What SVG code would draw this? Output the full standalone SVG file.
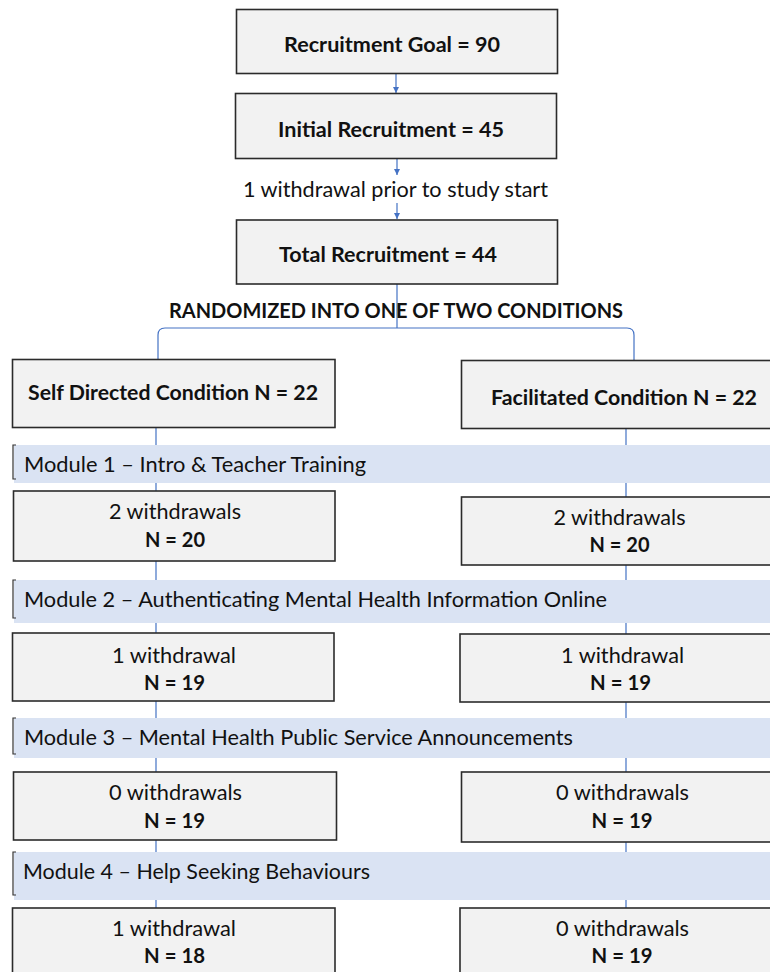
<svg xmlns="http://www.w3.org/2000/svg" width="770" height="972" viewBox="0 0 770 972">
<defs>
<marker id="ah" viewBox="0 0 10 10" refX="10" refY="5" markerWidth="6" markerHeight="6" orient="auto" markerUnits="userSpaceOnUse">
<path d="M0 0 L10 5 L0 10 Z" fill="#4472c4"/>
</marker>
<style>
.box{fill:#f2f2f2;stroke:#2b2b2b;stroke-width:1.6}
.bar{fill:#dae3f3}
.brk{fill:none;stroke:#333;stroke-width:1.2}
.con{fill:none;stroke:#4472c4;stroke-width:1.2}
text{font-family:Lato,"Liberation Sans",sans-serif;font-size:21px;fill:#111}
.b{font-weight:bold}
.c{text-anchor:middle}
</style>
</defs>
<rect width="770" height="972" fill="#fff"/>
<g id="connectors">
<line class="con" x1="396" y1="74" x2="396" y2="93" marker-end="url(#ah)"/>
<line class="con" x1="397" y1="159" x2="397" y2="175" marker-end="url(#ah)"/>
<line class="con" x1="397" y1="203" x2="397" y2="219" marker-end="url(#ah)"/>
<path class="con" d="M397 284 V328"/>
<path class="con" d="M158 366 V335 Q158 328 165 328 H627 Q634 328 634 335 V366"/>
<line class="con" x1="156" y1="428" x2="156" y2="908"/>
<line class="con" x1="626" y1="428" x2="626" y2="908"/>
</g>
<g id="goal"><rect class="box" x="236.5" y="9.5" width="321" height="64"/><text class="b c" x="392" y="52" textLength="216" lengthAdjust="spacingAndGlyphs">Recruitment Goal = 90</text></g>
<g id="initial"><rect class="box" x="235.5" y="93.5" width="321" height="65"/><text class="b c" x="391" y="137" textLength="226" lengthAdjust="spacingAndGlyphs">Initial Recruitment = 45</text></g>
<g id="withdrawal-prior"><text class="c" x="395.5" y="197" textLength="305" lengthAdjust="spacingAndGlyphs">1 withdrawal prior to study start</text></g>
<g id="total"><rect class="box" x="236.5" y="220" width="321" height="64"/><text class="b c" x="388" y="262" textLength="218" lengthAdjust="spacingAndGlyphs">Total Recruitment = 44</text></g>
<g id="randomized"><text class="b c" x="396" y="318" textLength="454" lengthAdjust="spacingAndGlyphs">RANDOMIZED INTO ONE OF TWO CONDITIONS</text></g>
<g id="self"><rect class="box" x="12.5" y="359.5" width="322.5" height="68"/><text class="b c" x="173" y="400" textLength="290" lengthAdjust="spacingAndGlyphs">Self Directed Condition N = 22</text></g>
<g id="facilitated"><rect class="box" x="461.5" y="360.5" width="320" height="68"/><text class="b c" x="624" y="405" textLength="266" lengthAdjust="spacingAndGlyphs">Facilitated Condition N = 22</text></g>
<g id="module1"><rect class="bar" x="14" y="445" width="760" height="38"/><path class="brk" d="M16 445 H13 V479 H16"/><text x="24" y="472" textLength="342" lengthAdjust="spacingAndGlyphs">Module 1 – Intro &amp; Teacher Training</text></g>
<g id="self-m1"><rect class="box" x="13.5" y="491" width="321.5" height="70"/><text class="c" x="175" y="519" textLength="132" lengthAdjust="spacingAndGlyphs">2 withdrawals</text><text class="b c" x="175" y="547" textLength="60" lengthAdjust="spacingAndGlyphs">N = 20</text></g>
<g id="fac-m1"><rect class="box" x="461.5" y="497" width="320" height="68"/><text class="c" x="619.5" y="525" textLength="132" lengthAdjust="spacingAndGlyphs">2 withdrawals</text><text class="b c" x="619.5" y="552" textLength="60" lengthAdjust="spacingAndGlyphs">N = 20</text></g>
<g id="module2"><rect class="bar" x="14" y="580" width="760" height="43"/><path class="brk" d="M16 580 H13 V618 H16"/><text x="24" y="607" textLength="583" lengthAdjust="spacingAndGlyphs">Module 2 – Authenticating Mental Health Information Online</text></g>
<g id="self-m2"><rect class="box" x="12.5" y="633" width="321.5" height="68"/><text class="c" x="174" y="663" textLength="124" lengthAdjust="spacingAndGlyphs">1 withdrawal</text><text class="b c" x="174.5" y="690" textLength="61" lengthAdjust="spacingAndGlyphs">N = 19</text></g>
<g id="fac-m2"><rect class="box" x="460" y="634" width="320" height="68"/><text class="c" x="622.5" y="663" textLength="123" lengthAdjust="spacingAndGlyphs">1 withdrawal</text><text class="b c" x="620.5" y="690" textLength="61" lengthAdjust="spacingAndGlyphs">N = 19</text></g>
<g id="module3"><rect class="bar" x="14" y="718" width="760" height="40"/><path class="brk" d="M16 718 H13 V754 H16"/><text x="24" y="745" textLength="549" lengthAdjust="spacingAndGlyphs">Module 3 – Mental Health Public Service Announcements</text></g>
<g id="self-m3"><rect class="box" x="13.5" y="772" width="323" height="68"/><text class="c" x="175.5" y="800" textLength="133" lengthAdjust="spacingAndGlyphs">0 withdrawals</text><text class="b c" x="174.5" y="827.5" textLength="61" lengthAdjust="spacingAndGlyphs">N = 19</text></g>
<g id="fac-m3"><rect class="box" x="461.5" y="772" width="320" height="70"/><text class="c" x="622.5" y="800" textLength="133" lengthAdjust="spacingAndGlyphs">0 withdrawals</text><text class="b c" x="622" y="827.5" textLength="61" lengthAdjust="spacingAndGlyphs">N = 19</text></g>
<g id="module4"><rect class="bar" x="14" y="852" width="760" height="48"/><path class="brk" d="M16 852 H13 V895 H16"/><text x="23" y="879" textLength="347" lengthAdjust="spacingAndGlyphs">Module 4 – Help Seeking Behaviours</text></g>
<g id="self-m4"><rect class="box" x="12.5" y="908" width="322.5" height="80"/><text class="c" x="174" y="936" textLength="124" lengthAdjust="spacingAndGlyphs">1 withdrawal</text><text class="b c" x="174.5" y="963" textLength="61" lengthAdjust="spacingAndGlyphs">N = 18</text></g>
<g id="fac-m4"><rect class="box" x="460" y="908" width="320" height="80"/><text class="c" x="622.5" y="936" textLength="133" lengthAdjust="spacingAndGlyphs">0 withdrawals</text><text class="b c" x="622" y="963" textLength="61" lengthAdjust="spacingAndGlyphs">N = 19</text></g>
</svg>
